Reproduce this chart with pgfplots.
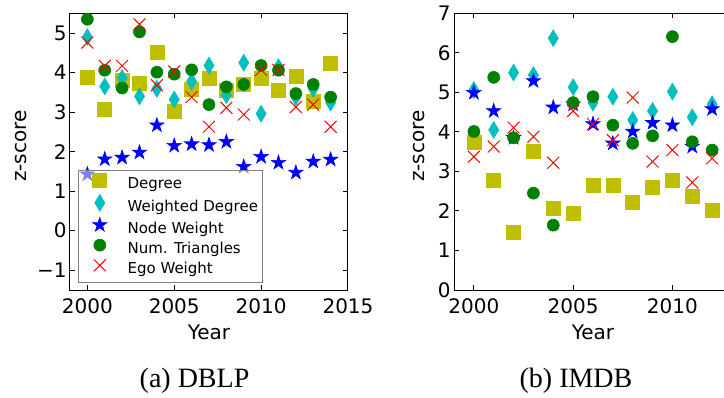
\documentclass[border=0pt]{standalone}
\usepackage{fontspec}
\setmainfont{DejaVu Sans}
\newfontfamily\capfont{Liberation Serif}
\usepackage{pgfplots}
\pgfplotsset{compat=1.18}

\definecolor{mplY}{rgb}{0.75,0.75,0}
\definecolor{mplC}{rgb}{0,0.75,0.75}
\definecolor{mplB}{rgb}{0,0,1}
\definecolor{mplG}{rgb}{0,0.5,0}
\definecolor{mplR}{rgb}{1,0,0}

% filled five-pointed star
\pgfdeclareplotmark{fivestar}{%
  \pgfpathmoveto{\pgfpointpolar{90}{\pgfplotmarksize}}%
  \pgfpathlineto{\pgfpointpolar{126}{0.382\pgfplotmarksize}}%
  \pgfpathlineto{\pgfpointpolar{162}{\pgfplotmarksize}}%
  \pgfpathlineto{\pgfpointpolar{198}{0.382\pgfplotmarksize}}%
  \pgfpathlineto{\pgfpointpolar{234}{\pgfplotmarksize}}%
  \pgfpathlineto{\pgfpointpolar{270}{0.382\pgfplotmarksize}}%
  \pgfpathlineto{\pgfpointpolar{306}{\pgfplotmarksize}}%
  \pgfpathlineto{\pgfpointpolar{342}{0.382\pgfplotmarksize}}%
  \pgfpathlineto{\pgfpointpolar{18}{\pgfplotmarksize}}%
  \pgfpathlineto{\pgfpointpolar{54}{0.382\pgfplotmarksize}}%
  \pgfpathclose
  \pgfusepath{fill,stroke}%
}

\pgfplotsset{
  zaxis/.style={
    scale only axis, width=139pt, height=138.35pt,
    axis line style={line width=0.5pt},
    tick align=inside, major tick length=2.5pt,
    tick style={black, line width=0.5pt},
    minor tick num=0,
    /pgf/number format/assume math mode=true,
    /pgf/number format/1000 sep={},
    tick label style={font=\fontsize{10}{12}\selectfont},
    label style={font=\fontsize{10}{12}\selectfont},
    xticklabel style={inner sep=0pt, yshift=-4pt},
    yticklabel style={inner sep=0pt, xshift=-1.5pt},
    xlabel={Year}, ylabel={z-score},
    every axis x label/.style={at={(axis description cs:0.5,-0.1807)}, anchor=base},
    only marks,
  },
  sDeg/.style={mark=square*, mark size=3.5pt, color=mplY,
    mark options={line width=0.3pt, fill=mplY, draw=mplY}},
  sWDeg/.style={mark=diamond*, mark size=4.2pt, color=mplC,
    mark options={xscale=0.8, line width=0.3pt, fill=mplC, draw=mplC}},
  sNode/.style={mark=fivestar, mark size=3.8pt, color=mplB,
    mark options={line width=0.3pt, fill=mplB, draw=mplB}},
  sTri/.style={mark=*, mark size=3pt, color=mplG,
    mark options={line width=0.3pt, fill=mplG, draw=mplG}},
  sEgo/.style={mark=x, mark size=4.2pt, color=mplR,
    mark options={line width=0.5pt, draw=mplR}},
}

\begin{document}
\begin{tikzpicture}

% ---------------- DBLP ----------------
\begin{axis}[zaxis,
  at={(35pt,53.5pt)}, anchor=south west,
  xmin=1999, xmax=2015, ymin=-1.5, ymax=5.5,
  xtick={2000,2005,2010,2015},
  ytick={-1,0,1,2,3,4,5},
  yticklabels={−1,0,1,2,3,4,5},
  every axis y label/.style={at={(axis description cs:-0.176,0.52)}, rotate=90, anchor=center},
  legend cell align=left,
  legend image code/.code={%
    \path[draw=none, fill=none] (-8.3pt,2.2pt) -- (8.3pt,2.2pt);
    \draw[#1, only marks, fill opacity=1, draw opacity=1] plot coordinates {(0pt,2.2pt)};
  },
  legend style={
    at={(axis description cs:0.0277,0.0253)}, anchor=south west,
    draw=black!50, line width=0.5pt, fill=white, fill opacity=0.5,
    draw opacity=1, text opacity=1,
    inner xsep=2.5pt, inner ysep=1.5pt, column sep=5.6pt, row sep=0pt,
    font=\fontsize{7.5}{9}\selectfont,
    nodes={inner xsep=0pt, inner ysep=1.6pt, text height=5.2pt, text depth=1.4pt},
  },
]
\addplot[sDeg] coordinates {
  (2000,3.89) (2001,3.08) (2002,3.80) (2003,3.74) (2004,4.52)
  (2005,3.03) (2006,3.57) (2007,3.86) (2008,3.54) (2009,3.70)
  (2010,3.86) (2011,3.54) (2012,3.91) (2013,3.28) (2014,4.23)};
\addlegendentry{Degree}
\addplot[sWDeg] coordinates {
  (2000,4.90) (2001,3.65) (2002,3.86) (2003,3.40) (2004,3.59)
  (2005,3.32) (2006,3.78) (2007,4.18) (2008,3.43) (2009,4.25)
  (2010,2.96) (2011,4.14) (2012,3.38) (2013,3.59) (2014,3.24)};
\addlegendentry{Weighted Degree}
\addplot[sNode] coordinates {
  (2000,1.43) (2001,1.81) (2002,1.85) (2003,1.98) (2004,2.67)
  (2005,2.15) (2006,2.19) (2007,2.17) (2008,2.25) (2009,1.62)
  (2010,1.87) (2011,1.72) (2012,1.47) (2013,1.75) (2014,1.80)};
\addlegendentry{Node Weight}
\addplot[sTri] coordinates {
  (2000,5.35) (2001,4.06) (2002,3.61) (2003,5.03) (2004,4.01)
  (2005,3.96) (2006,4.07) (2007,3.19) (2008,3.64) (2009,3.70)
  (2010,4.18) (2011,4.06) (2012,3.47) (2013,3.70) (2014,3.38)};
\addlegendentry{Num. Triangles}
\addplot[sEgo] coordinates {
  (2000,4.76) (2001,4.17) (2002,4.17) (2003,5.22) (2004,3.68)
  (2005,4.03) (2006,3.38) (2007,2.63) (2008,3.11) (2009,2.94)
  (2010,4.07) (2011,4.07) (2012,3.13) (2013,3.19) (2014,2.63)};
\addlegendentry{Ego Weight}
\end{axis}

% ---------------- IMDB ----------------
\begin{axis}[zaxis,
  at={(227pt,53.5pt)}, anchor=south west,
  xmin=1999, xmax=2013, ymin=0, ymax=7,
  xtick={2000,2005,2010},
  ytick={0,1,2,3,4,5,6,7},
  every axis y label/.style={at={(axis description cs:-0.124,0.52)}, rotate=90, anchor=center},
]
\addplot[sDeg] coordinates {
  (2000,3.73) (2001,2.77) (2002,1.45) (2003,3.50) (2004,2.06)
  (2005,1.94) (2006,2.66) (2007,2.66) (2008,2.22) (2009,2.61)
  (2010,2.77) (2011,2.38) (2012,2.02)};
\addplot[sWDeg] coordinates {
  (2000,5.06) (2001,4.05) (2002,5.50) (2003,5.44) (2004,6.37)
  (2005,5.13) (2006,4.74) (2007,4.89) (2008,4.30) (2009,4.53)
  (2010,5.02) (2011,4.37) (2012,4.70)};
\addplot[sNode] coordinates {
  (2000,4.99) (2001,4.53) (2002,3.85) (2003,5.29) (2004,4.62)
  (2005,4.70) (2006,4.20) (2007,3.71) (2008,4.01) (2009,4.23)
  (2010,4.17) (2011,3.63) (2012,4.58)};
\addplot[sTri] coordinates {
  (2000,4.01) (2001,5.38) (2002,3.85) (2003,2.45) (2004,1.64)
  (2005,4.74) (2006,4.89) (2007,4.17) (2008,3.71) (2009,3.90)
  (2010,6.41) (2011,3.75) (2012,3.54)};
\addplot[sEgo] coordinates {
  (2000,3.37) (2001,3.63) (2002,4.11) (2003,3.88) (2004,3.22)
  (2005,4.53) (2006,4.20) (2007,3.79) (2008,4.87) (2009,3.25)
  (2010,3.54) (2011,2.72) (2012,3.33)};
\end{axis}

% sub-figure captions
\node[anchor=base, inner sep=0pt, font=\capfont\fontsize{14}{16}\selectfont] at (97.25pt,4.65pt) {(a) DBLP};
\node[anchor=base, inner sep=0pt, font=\capfont\fontsize{14}{16}\selectfont] at (288pt,4.65pt) {(b) IMDB};

\pgfresetboundingbox
\useasboundingbox (0pt,0pt) rectangle (362pt,198.5pt);
\end{tikzpicture}
\end{document}
